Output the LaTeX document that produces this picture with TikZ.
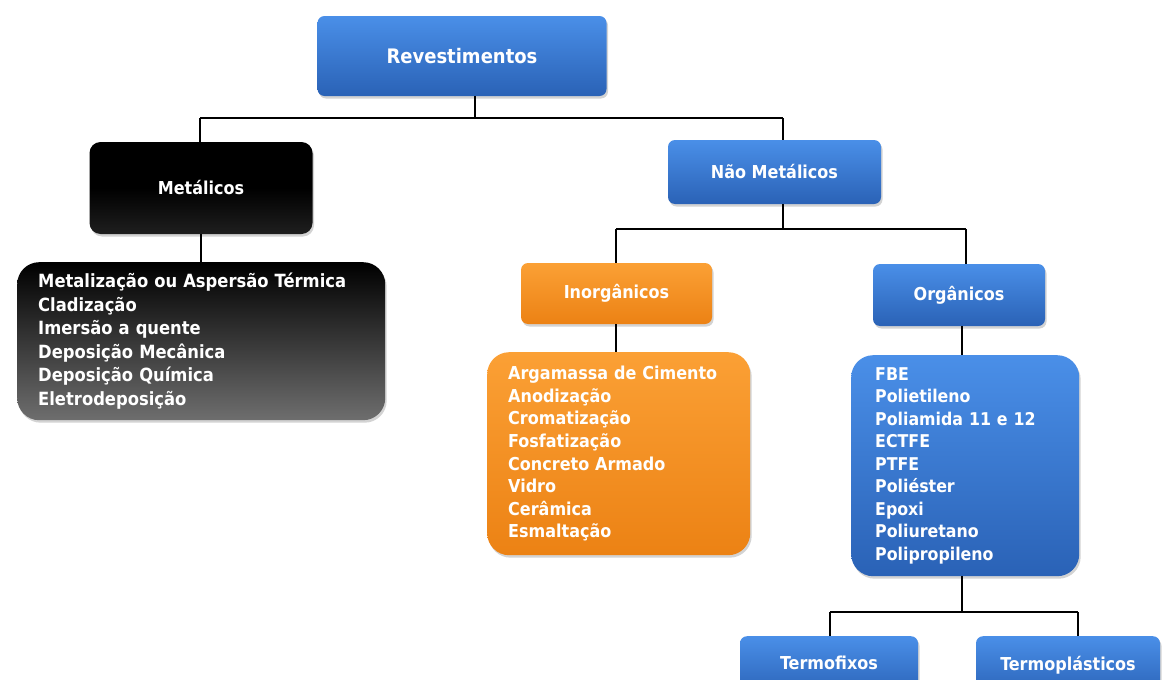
\documentclass[tikz,border=0pt]{standalone}
\usepackage{fontspec}
\setmainfont{DejaVu Sans Condensed}
\usetikzlibrary{positioning, shadows}

\definecolor{boxbluetop}{HTML}{4A8FE8}
\definecolor{boxbluebot}{HTML}{2A62B6}
\definecolor{boxorgtop}{HTML}{FBA035}
\definecolor{boxorgbot}{HTML}{EC8214}
\definecolor{boxgrey}{HTML}{6E6E6E}

\begin{document}
\begin{tikzpicture}[
  x=1pt, y=-1pt,
  every node/.style={text=white, font=\bfseries\fontsize{17.8}{21}\selectfont},
  boxshade/.style={drop shadow={opacity=0.35, shadow xshift=1.5pt, shadow yshift=-2.5pt}},
  bluebox/.style={rectangle, rounded corners=7pt, top color=boxbluetop, bottom color=boxbluebot, inner sep=0pt, boxshade},
  orgbox/.style={rectangle, rounded corners=7pt, top color=boxorgtop, bottom color=boxorgbot, inner sep=0pt, boxshade},
  blackbox/.style={rectangle, rounded corners=11pt, top color=black, bottom color=black!88, middle color=black, inner sep=0pt, boxshade},
  listbox/.style={rectangle, rounded corners=22pt, align=left, inner ysep=0pt, boxshade},
  link/.style={line width=2.8pt, black}
]
\useasboundingbox (0,0) rectangle (1168,680);

% Nodes
\node[bluebox, minimum width=289pt, minimum height=80pt, font=\bfseries\fontsize{20}{24}\selectfont] (rev) at (462,56) {Revestimentos};

\node[blackbox, minimum width=223pt, minimum height=92pt] (met) at (201,188) {Metálicos};
\node[bluebox, minimum width=213pt, minimum height=64pt] (nmet) at (774.5,172) {Não Metálicos};

\node[listbox, anchor=north west, minimum width=368pt, minimum height=158pt, text width=326pt, inner xsep=21pt,
      top color=black, bottom color=boxgrey, font=\bfseries\fontsize{18.2}{23.6}\selectfont] (metlist) at (17,262)
  {Metalização ou Aspersão Térmica\\Cladização\\Imersão a quente\\Deposição Mecânica\\Deposição Química\\Eletrodeposição};

\node[orgbox, minimum width=191pt, minimum height=61pt] (inorg) at (616.5,293.5) {Inorgânicos};
\node[bluebox, minimum width=172pt, minimum height=62pt] (org) at (959,295) {Orgânicos};

\node[listbox, anchor=north west, minimum width=263pt, minimum height=203pt, text width=221pt, inner xsep=21pt,
      top color=boxorgtop, bottom color=boxorgbot, font=\bfseries\fontsize{17.8}{22.6}\selectfont] (inorglist) at (487,352)
  {Argamassa de Cimento\\Anodização\\Cromatização\\Fosfatização\\Concreto Armado\\Vidro\\Cerâmica\\Esmaltação};

\node[listbox, anchor=north west, minimum width=228pt, minimum height=221pt, text width=180pt, inner xsep=24pt,
      top color=boxbluetop, bottom color=boxbluebot, font=\bfseries\fontsize{17.6}{22.5}\selectfont] (orglist) at (851,355)
  {FBE\\Polietileno\\Poliamida 11 e 12\\ECTFE\\PTFE\\Poliéster\\Epoxi\\Poliuretano\\Polipropileno};

\node[bluebox, anchor=north, minimum width=178pt, minimum height=60pt] (tfix) at (829,636) {\raisebox{6pt}{Termofixos}};
\node[bluebox, anchor=north, minimum width=184pt, minimum height=60pt] (tplas) at (1068,636) {\raisebox{6pt}{Termoplásticos}};

% Edges
\coordinate (j1) at (475,118);
\coordinate (j2) at (783,229);
\coordinate (j3) at (962,612);
\draw[link] (rev.south -| j1) -- (j1);
\draw[link] (200,118) -- (783,118);
\draw[link] (200,118) -- (met.north -| 200,0);
\draw[link] (783,118) -- (nmet.north -| 783,0);
\draw[link] (met.south -| 201,0) -- (metlist.north -| 201,0);

\draw[link] (nmet.south -| j2) -- (j2);
\draw[link] (616,229) -- (966,229);
\draw[link] (616,229) -- (inorg.north -| 616,0);
\draw[link] (966,229) -- (org.north -| 966,0);
\draw[link] (inorg.south -| 616,0) -- (inorglist.north -| 616,0);
\draw[link] (org.south -| 962,0) -- (orglist.north -| 962,0);

\draw[link] (orglist.south -| j3) -- (j3);
\draw[link] (830,612) -- (1078,612);
\draw[link] (830,612) -- (tfix.north -| 830,0);
\draw[link] (1078,612) -- (tplas.north -| 1078,0);

\end{tikzpicture}
\end{document}
